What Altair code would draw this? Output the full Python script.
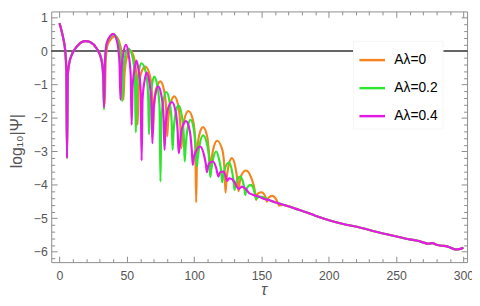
import altair as alt
import pandas as pd

# ---- data (tau, log10|Psi|) ----
common_t = [0, 1.5, 3.1, 4.4, 5.1, 5.6, 6.2, 7.3, 9.2, 12.9, 16, 19.5, 23, 27.5, 31.1]
common_v = [0.84, 0.62, 0.33, -0.05, -0.6, -3.2, -0.7, -0.35, -0.1, 0.14, 0.26, 0.3, 0.27, 0.09, -0.24]

tail_t = [175, 182, 190, 199, 210, 223.6, 235, 248, 260, 266, 270, 274, 277, 280, 284, 287, 290, 294, 297, 300]
tail_v = [-4.71, -4.8, -4.92, -5.04, -5.16, -5.28, -5.4, -5.52, -5.63, -5.67, -5.72, -5.76, -5.74,
          -5.79, -5.82, -5.83, -5.87, -5.93, -5.92, -5.88]

orange_t = [32.6, 33.6,
            34.3, 35.8, 41.5, 45.3, 46.8, 47.5,
            48.2, 49.7, 52.8, 55.8, 57.3, 58,
            58.7, 60.2, 63.8, 67.3, 68.8, 69.5,
            70.2, 71.7, 75, 77.8, 79.3, 80,
            80.7, 82.2, 85.3, 88.3, 89.8, 90.5,
            91.2, 92.7, 95.8, 99.3, 100.8, 101.5,
            102.2, 103.7, 106.6, 109.8, 111.3, 112,
            112.7, 114.2, 117.1, 121.1, 122.6, 123.3,
            124, 125.5, 128, 130.8, 132.3, 133,
            133.7, 135.2, 138.5, 142.5, 145.2, 146,
            146.7, 148, 150, 152, 153.3, 154,
            154.7, 156, 158, 160.5, 162.3, 163,
            166, 170]
orange_v = [-0.6, -1.6,
            -0.35, 0.2, 0.45, 0.15, -0.45, -1.45,
            -0.78, -0.23, 0.02, -0.28, -0.88, -2.2,
            -1.26, -0.71, -0.46, -0.76, -1.36, -2.45,
            -1.7, -1.15, -0.9, -1.2, -1.8, -2.55,
            -2.1, -1.6, -1.35, -1.65, -2.25, -2.9,
            -2.5, -2.04, -1.79, -2.09, -2.69, -4.52,
            -3.07, -2.52, -2.27, -2.57, -3.17, -3.55,
            -3.3, -2.93, -2.68, -2.98, -3.58, -4.23,
            -3.85, -3.45, -3.2, -3.5, -3.9, -4.19,
            -3.95, -3.7, -3.57, -3.8, -4.2, -4.45,
            -4.3, -4.24, -4.22, -4.28, -4.4, -4.5,
            -4.42, -4.36, -4.33, -4.4, -4.55, -4.62,
            -4.6, -4.64]

green_t = [32.4, 33.1,
           33.8, 35.3, 40.4, 44.3, 45.8, 46.5,
           47.2, 48.7, 51.2, 54.5, 56, 56.7,
           57.4, 58.9, 60.9, 64.3, 65.8, 66.5,
           67.2, 68.7, 70.3, 72.8, 74.3, 75,
           75.7, 77.2, 79.4, 81.8, 83.3, 84,
           84.7, 86.2, 88.4, 90.8, 92.3, 93,
           93.7, 95.2, 97.3, 99.8, 101.3, 102,
           102.7, 104.2, 106.7, 109.8, 111.3, 112,
           112.7, 114.2, 116.4, 118.6, 120.1, 120.8,
           121.5, 123, 125.8, 127.8, 129.3, 130,
           130.7, 132, 134.2, 136, 137.3, 138,
           138.7, 140, 142, 144, 145.3, 146,
           148, 151, 155, 160, 165, 170]
green_v = [-0.75, -1.74,
           -0.3, 0.25, 0.5, 0.2, -0.4, -1.5,
           -0.72, -0.17, 0.08, -0.22, -0.82, -2.43,
           -1.16, -0.61, -0.36, -0.66, -1.26, -2.49,
           -1.56, -1.01, -0.76, -1.06, -1.66, -3.9,
           -2.02, -1.47, -1.22, -1.52, -2.12, -2.95,
           -2.42, -1.87, -1.62, -1.92, -2.52, -3.3,
           -2.85, -2.3, -2.05, -2.35, -2.95, -3.45,
           -3.2, -2.77, -2.52, -2.82, -3.3, -3.76,
           -3.55, -3.2, -3.0, -3.25, -3.6, -3.92,
           -3.75, -3.5, -3.33, -3.52, -3.9, -4.15,
           -4.0, -3.85, -3.75, -3.88, -4.1, -4.3,
           -4.15, -4.05, -4.0, -4.1, -4.3, -4.42,
           -4.35, -4.36, -4.44, -4.52, -4.58, -4.64]

magenta_t = [32.5, 33.1,
             33.8, 35.3, 40, 43.1, 44.6, 45.3,
             46, 47.5, 49.4, 51.4, 52.9, 53.6,
             54.3, 55.8, 57.2, 58.8, 60.3, 61,
             61.7, 63.2, 64.8, 66.8, 68.3, 69,
             69.7, 71.2, 73.3, 75.8, 77.3, 78,
             78.7, 80.2, 83.5, 86.3, 87.8, 88.5,
             89.2, 90.7, 94, 96.8, 98.3, 99,
             99.7, 101.2, 104.5, 107.3, 108.8, 109.5,
             110.5, 112, 114, 116.3, 118, 119.3, 121.8, 123.5, 124.5, 126, 128.6,
             131, 133, 135.5, 138.3, 141, 144, 148, 152, 156, 160, 165, 170]
magenta_v = [-0.75, -1.68,
             -0.28, 0.27, 0.52, 0.22, -0.38, -1.45,
             -0.61, -0.06, 0.19, -0.11, -0.71, -2.2,
             -1.08, -0.53, -0.28, -0.58, -1.18, -3.27,
             -1.44, -0.89, -0.64, -0.94, -1.54, -2.75,
             -1.85, -1.3, -1.05, -1.35, -1.95, -2.95,
             -2.32, -1.77, -1.52, -1.82, -2.42, -3.05,
             -2.89, -2.34, -2.09, -2.39, -2.99, -3.4,
             -3.2, -3.0, -2.85, -3.1, -3.4, -3.62,
             -3.42, -3.32, -3.3, -3.48, -3.75, -3.62, -3.6, -3.75, -3.88, -3.8, -3.84,
             -4.0, -4.12, -4.05, -4.12, -4.25, -4.3, -4.35, -4.42, -4.46, -4.52, -4.58, -4.64]

series_names = ["Aλ=0", "Aλ=0.2", "Aλ=0.4"]
series_colors = ["#F5841F", "#2EE62E", "#E61AE6"]

x_major = [0, 50, 100, 150, 200, 250, 300]
x_minor = [v for v in range(0, 301, 10) if v % 50 != 0]
y_major = [-6, -5, -4, -3, -2, -1, 0, 1]
y_minor = [round(-6.2 + 0.2 * i, 1) for i in range(37) if abs(round(-6.2 + 0.2 * i, 1) % 1) > 1e-9]

rows = []
for name, ts, vs in zip(series_names, [orange_t, green_t, magenta_t], [orange_v, green_v, magenta_v]):
    for t, v in zip(common_t + ts + tail_t, common_v + vs + tail_v):
        rows.append({"t": t, "v": v, "s": name})
df = pd.DataFrame(rows)

W, H = 423, 255
FONT = "Liberation Sans"
GRAY = "#555555"
FRAME = "#8c8c8c"

xs = alt.Scale(domain=[-6.1, 302.7], nice=False, zero=False)
ys = alt.Scale(domain=[-6.31, 1.19], nice=False, zero=False)


def tick_axis(orient, values, size):
    return alt.Axis(orient=orient, values=values, labels=False, domain=False, grid=False,
                    ticks=True, tickSize={"expr": str(-size)}, tickColor=FRAME, tickWidth=1,
                    title=None)


zero_rule = alt.Chart(df).mark_rule(color="#666666", strokeWidth=1).encode(
    y=alt.datum(0, scale=ys, axis=None)
)

lines = alt.Chart(df).mark_line(strokeWidth=2.2, clip=True, interpolate="monotone").encode(
    x=alt.X("t:Q", scale=xs, axis=alt.Axis(
        orient="bottom", values=x_major, ticks=False, domain=False, grid=False, format="d",
        labelFont=FONT, labelFontSize=12.5, labelColor=GRAY, labelPadding=8,
        title="τ", titleFont=FONT, titleFontSize=16, titleFontStyle="italic",
        titleFontWeight="normal", titleColor=GRAY, titleX=216, titleY=33,
        titleBaseline="alphabetic")),
    y=alt.Y("v:Q", scale=ys, axis=alt.Axis(
        orient="left", values=y_major, ticks=False, domain=False, grid=False, format="d",
        labelFont=FONT, labelFontSize=12.5, labelColor=GRAY, labelPadding=4,
        title="log₁₀|Ψ|", titleFont=FONT, titleFontSize=16, titleFontWeight="normal",
        titleColor=GRAY, titleX=-35, titleY=H / 2 + 4, titleBaseline="middle", titleAlign="center")),
    color=alt.Color("s:N", scale=alt.Scale(domain=series_names, range=series_colors),
                    legend=alt.Legend(orient="none", legendX=307, legendY=30, title=None,
                                      symbolType="stroke", symbolSize=676, symbolStrokeWidth=2.5,
                                      labelFont=FONT, labelFontSize=14, labelColor="black",
                                      labelOffset=8, rowPadding=6.5, padding=5,
                                      fillColor="white", strokeColor="#f6f6f6")),
)


def tick_layer(xo, xv, xsz, yo, yv, ysz):
    return alt.Chart(df).mark_point(opacity=0).encode(
        x=alt.X("t:Q", scale=xs, axis=tick_axis(xo, xv, xsz)),
        y=alt.Y("v:Q", scale=ys, axis=tick_axis(yo, yv, ysz)),
    )


chart = alt.layer(
    zero_rule,
    lines,
    tick_layer("bottom", x_major, 6, "left", y_major, 6),
    tick_layer("bottom", x_minor, 3.5, "left", y_minor, 3.5),
    tick_layer("top", x_major, 6, "right", y_major, 6),
    tick_layer("top", x_minor, 3.5, "right", y_minor, 3.5),
).resolve_axis(x="independent", y="independent").properties(
    width=W, height=H,
    autosize="none",
    padding={"left": 44, "top": 1, "right": 5, "bottom": 34},
).configure_view(stroke=FRAME, strokeWidth=1)

chart.save("out.html", embed_options={"renderer": "svg", "actions": False})
